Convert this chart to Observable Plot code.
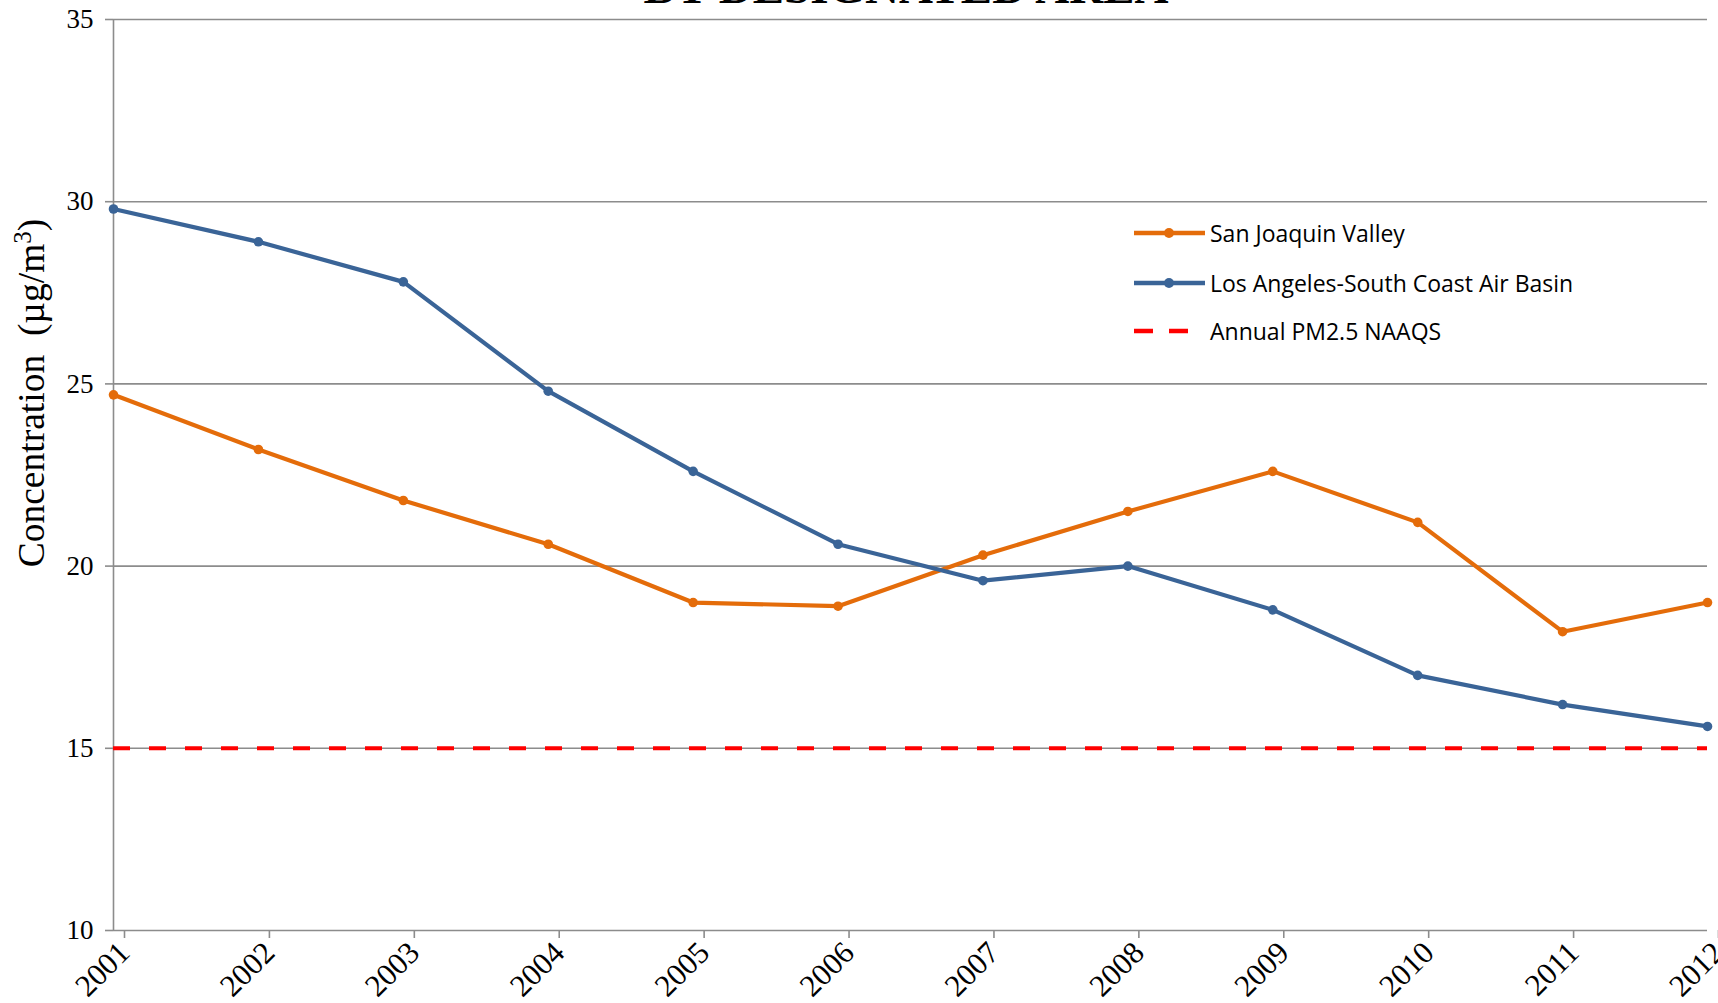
<!DOCTYPE html>
<html><head><meta charset="utf-8">
<script src="https://cdn.jsdelivr.net/npm/d3@7"></script>
<script src="https://cdn.jsdelivr.net/npm/@observablehq/plot@0.6"></script>
<style>
body{margin:0;background:#fff;}
#wrap{position:relative;width:1718px;height:1003px;overflow:hidden;background:#fff;}
#title{position:absolute;left:0;top:-36px;width:1812px;text-align:center;font:bold 47px/47px "Liberation Serif","Times New Roman",serif;color:#000;white-space:nowrap;z-index:2;}
#legend{position:absolute;left:1130px;top:0;font-family:"Open Sans",sans-serif;font-size:23px;color:#000;z-index:2;}
.row{position:absolute;left:0;height:30px;display:flex;align-items:center;white-space:nowrap;}
.row svg{margin-right:5px;}
#chart{position:absolute;left:0;top:0;}
</style></head>
<body><div id="wrap"><div id="title">BY DESIGNATED AREA</div><div id="chart"></div><div id="legend"></div></div>
<script>
const years = [2001,2002,2003,2004,2005,2006,2007,2008,2009,2010,2011,2012];
const sanJoaquin = [24.7,23.2,21.8,20.6,19.0,18.9,20.3,21.5,22.6,21.2,18.2,19.0];
const losAngeles = [29.8,28.9,27.8,24.8,22.6,20.6,19.6,20.0,18.8,17.0,16.2,15.6];
const naaqs = 15;
const yTicks = [10,15,20,25,30,35];
const seriesNames = ["San Joaquin Valley","Los Angeles-South Coast Air Basin","Annual PM2.5 NAAQS"];
const colors = ["#E46C0A","#3A6497","#FF0000"];

const sjv = years.map((y,i)=>({year:y, value:sanJoaquin[i]}));
const la = years.map((y,i)=>({year:y, value:losAngeles[i]}));
const grid = "#8c8c8c";

const chart = Plot.plot({
  width:1718, height:1003,
  marginLeft:113, marginRight:11, marginTop:19, marginBottom:73,
  style:{fontFamily:'"Liberation Serif","Times New Roman",serif', fontSize:"27px", background:"transparent", color:"#000"},
  x:{domain:[2001,2012], label:null},
  y:{domain:[10,35], label:null},
  marks:[
    Plot.gridY(yTicks.filter(d=>d>10), {stroke:grid, strokeOpacity:1, strokeWidth:1.6}),
    Plot.ruleY([10], {stroke:grid, strokeWidth:1.6}),
    Plot.ruleX([2001], {stroke:grid, strokeWidth:1.6}),
    Plot.axisY({ticks:yTicks, tickSize:8, tickPadding:12, stroke:grid, strokeWidth:1.6, fill:"#000", label:null, tickFormat:d=>String(d)}),
    Plot.axisX({ticks:years, tickSize:8, tickPadding:9, tickRotate:-45, stroke:grid, strokeWidth:1.6, fill:"#000", label:null, tickFormat:d=>String(d), dx:11, fontSize:31}),
    Plot.ruleY([naaqs], {stroke:colors[2], strokeWidth:4, strokeDasharray:"17,19"}),
    Plot.line(sjv, {x:"year", y:"value", stroke:colors[0], strokeWidth:4.2}),
    Plot.dot(sjv, {x:"year", y:"value", fill:colors[0], r:4.8}),
    Plot.line(la, {x:"year", y:"value", stroke:colors[1], strokeWidth:4.2}),
    Plot.dot(la, {x:"year", y:"value", fill:colors[1], r:4.8})
  ]
});
document.getElementById("chart").appendChild(chart);

// y-axis title
const svg = d3.select(chart);
const t = svg.append("text")
  .attr("transform","translate(44,393) rotate(-90)")
  .attr("text-anchor","middle")
  .attr("font-family",'"Liberation Serif","Times New Roman",serif')
  .attr("font-size","37.5px")
  .attr("fill","#000");
t.append("tspan").text("Concentration  (µg/m");
t.append("tspan").attr("baseline-shift","super").attr("font-size","25px").text("3");
t.append("tspan").text(")");

// legend
const leg = document.getElementById("legend");
const rowY = [233,283,331];
seriesNames.forEach((name,i)=>{
  const row = document.createElement("div");
  row.className="row";
  row.style.top = (rowY[i]-15)+"px";
  let sw;
  if(i<2){
    sw = `<svg width="75" height="30"><line x1="4" y1="15" x2="75" y2="15" stroke="${colors[i]}" stroke-width="4.5"/><circle cx="39" cy="15" r="5" fill="${colors[i]}"/></svg>`;
  } else {
    sw = `<svg width="75" height="30"><line x1="4" y1="15" x2="58" y2="15" stroke="${colors[i]}" stroke-width="4.5" stroke-dasharray="19,16"/></svg>`;
  }
  row.innerHTML = sw + `<span>${name}</span>`;
  leg.appendChild(row);
});
</script>
</body></html>
